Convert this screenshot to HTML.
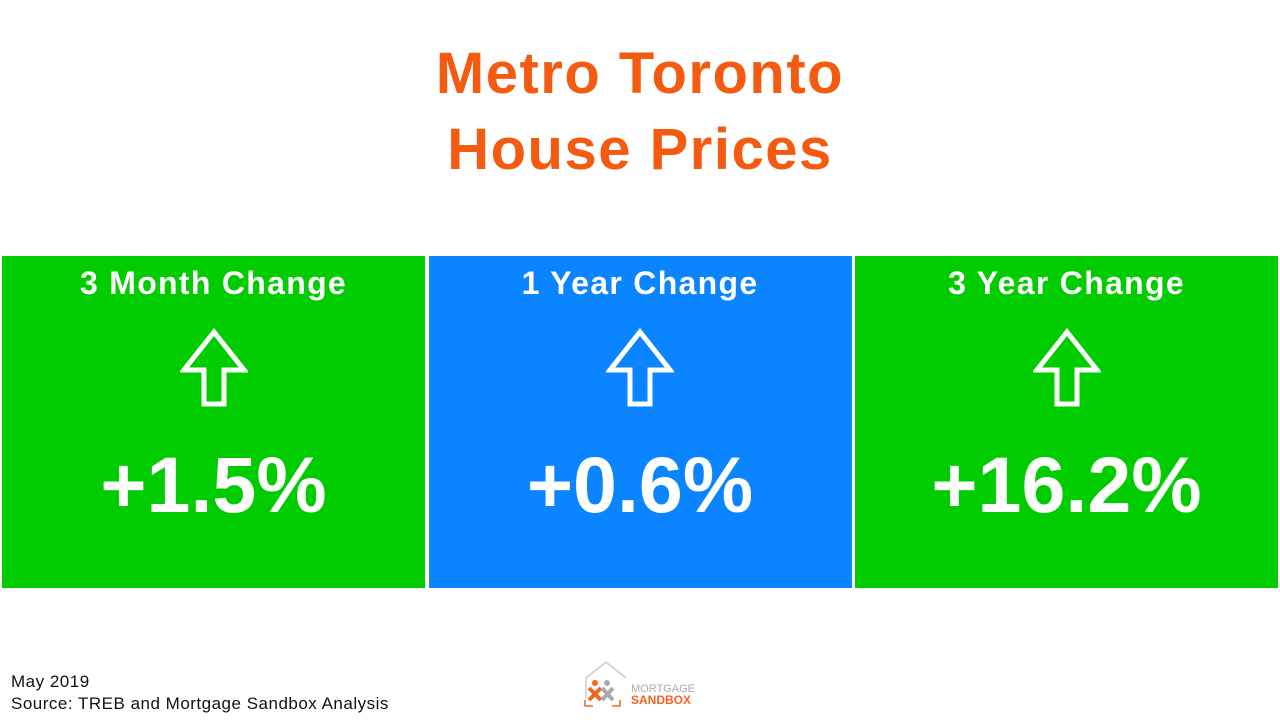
<!DOCTYPE html>
<html><head><meta charset="utf-8">
<style>
body{margin:0;width:1280px;height:720px;background:#fff;position:relative;overflow:hidden;font-family:"Liberation Sans",sans-serif}
.title{position:absolute;left:0;width:1280px;text-align:center;color:#f45a10;font-weight:bold;font-size:58px;line-height:76px;top:36px;letter-spacing:1.5px}
.panel{position:absolute;top:256px;height:332px}
.plabel{position:absolute;width:100%;text-align:center;color:#fff;font-weight:bold;font-size:32px;top:9px;letter-spacing:1.3px}
.pval{position:absolute;top:183px;width:100%;text-align:center;color:#fff;font-weight:bold;font-size:79px}
.arrow{position:absolute;top:72px;left:50%;margin-left:-34px}
.foot{position:absolute;left:11px;top:671px;font-size:17px;line-height:22px;color:#111;letter-spacing:0.5px}
</style></head><body>
<div class="title">Metro Toronto<br>House Prices</div>
<div id="panels"></div>
<div class="foot">May 2019<br>Source: TREB and Mortgage Sandbox Analysis</div>
<svg style="position:absolute;left:580px;top:658px" width="120" height="56">
<path d="M6 20 L26 4 L46 20" fill="none" stroke="#ccc" stroke-width="1.5"/>
<line x1="6" y1="20" x2="6" y2="40" stroke="#ccc" stroke-width="1.5"/>
<circle cx="15" cy="25" r="3" fill="#f26522"/><path d="M9 30 L21 42 M21 30 L9 42" stroke="#f26522" stroke-width="4"/>
<circle cx="27" cy="25" r="3" fill="#aaa"/><path d="M22 30 L33 42 M33 30 L22 42" stroke="#aaa" stroke-width="4"/>
<path d="M5 42 V48 H13 M40 42 V48 H32" stroke="#f26522" fill="none" stroke-width="1.5"/>
<text x="51" y="34" font-size="11" fill="#aaa" font-family="Liberation Sans">MORTGAGE</text>
<text x="51" y="46" font-size="12" fill="#f26522" font-weight="bold" font-family="Liberation Sans">SANDBOX</text>
</svg>
<script>
const labels=["3 Month Change","1 Year Change","3 Year Change"];
const values=["+1.5%","+0.6%","+16.2%"];
const colors=["#00cc00","#0a84ff","#00cc00"];
const box=document.getElementById('panels');
labels.forEach((l,i)=>{
  const p=document.createElement('div');
  p.className='panel';
  
  
  p.style.left=(2+i*426.5)+'px';p.style.width='423px';p.style.background=colors[i];
  const a=document.createElement('div');a.className='plabel';a.textContent=l;
  
  
  const s=document.createElementNS('http://www.w3.org/2000/svg','svg');
  s.setAttribute('class','arrow');s.setAttribute('width','68');s.setAttribute('height','80');
  
  
  s.innerHTML='<path d="M34 4 L64 42 L44 42 L44 76 L24 76 L24 42 L4 42 Z" fill="none" stroke="#fff" stroke-width="5"/>';
  const v=document.createElement('div');v.className='pval';v.textContent=values[i];
  
  
  p.append(a,s,v);box.appendChild(p);
});
</script>
</body></html>
